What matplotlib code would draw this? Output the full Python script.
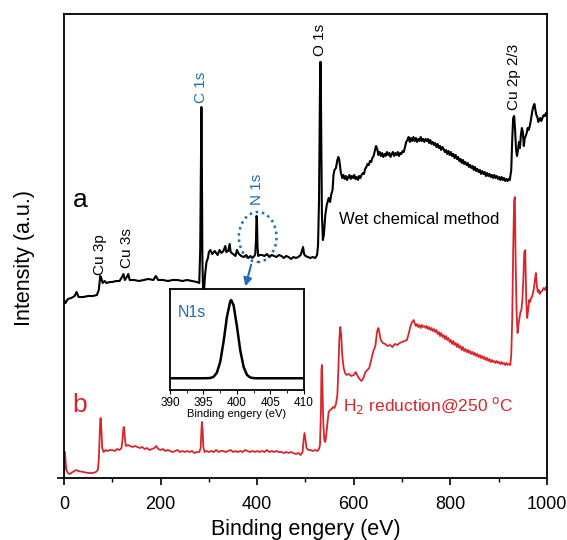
import numpy as np
import matplotlib
matplotlib.use("Agg")
import matplotlib.pyplot as plt
from matplotlib.patches import Ellipse

plt.rcParams['font.family'] = ['Liberation Sans', 'DejaVu Sans']

BLUE = '#1f6db5'
RED = '#d7262b'

# survey spectrum (a) wet chemical method: (binding energy eV, intensity a.u.)
wet_pts = [
    (0, 178), (3, 175), (8, 179), (15, 180), (22, 182), (26, 186), (30, 181), (40, 181), (50, 182),
    (60, 182), (68, 183), (72, 188), (75, 202), (77, 200), (80, 195), (84, 197), (88, 195), (95, 196),
    (100, 196), (108, 197), (115, 197), (120, 201), (123, 204), (126, 198), (130, 201), (133, 204),
    (136, 198), (145, 198), (155, 197), (165, 198), (175, 199), (185, 198), (190, 202), (195, 198),
    (205, 198), (215, 197), (225, 198), (235, 198), (245, 197), (255, 198), (265, 197), (275, 196),
    (280, 195), (282, 228), (283.5, 318), (284.5, 371), (285.5, 308), (286.5, 218), (288, 186),
    (290, 188), (292, 203), (295, 216), (298, 220), (300, 226), (303, 228), (307, 224), (312, 227),
    (318, 223), (322, 228), (326, 225), (330, 227), (334, 232), (336, 226), (340, 227), (343, 234),
    (345, 226), (350, 224), (355, 222), (358, 228), (362, 224), (367, 222), (372, 221), (377, 223),
    (382, 220), (386, 222), (390, 220), (394, 222), (396, 224), (397.5, 238), (398.5, 262),
    (399.5, 260), (400.5, 233), (402, 222), (405, 223), (410, 223), (415, 222), (420, 224), (425, 221),
    (430, 223), (435, 222), (440, 221), (445, 223), (450, 222), (455, 220), (460, 222), (465, 221),
    (470, 219), (475, 221), (480, 220), (485, 221), (490, 223), (493, 228), (495, 231), (497, 224),
    (500, 222), (505, 221), (510, 220), (515, 221), (520, 220), (524, 223), (526, 233), (528, 278),
    (529.5, 358), (530.5, 416), (531.5, 416), (532.5, 348), (534, 263), (536, 238), (538, 243),
    (541, 263), (544, 273), (548, 280), (551, 276), (553, 283), (556, 288), (558, 303), (560, 308),
    (563, 310), (566, 318), (568, 321), (570, 318), (573, 306),
    (576, 300), (578.5, 303), (581, 299), (583.5, 302), (586, 298), (588.5, 301), (591, 303),
    (593.5, 299), (596, 302), (598.5, 300), (601, 303), (603.5, 299), (606, 301), (608.5, 298),
    (611, 302), (613.5, 300), (616, 303), (618.5, 305), (621, 304), (623.5, 309), (626, 311),
    (628.5, 314), (631, 313), (633.5, 317), (636, 316), (638.5, 320), (641, 322), (643.5, 327),
    (646, 332), (648.5, 329), (651, 323), (653.5, 326), (656, 322), (658.5, 325), (661, 321),
    (663.5, 324), (666, 322), (668.5, 326), (671, 323), (673.5, 325), (676, 321), (678.5, 324),
    (681, 326), (683.5, 322), (686, 325), (688.5, 323), (691, 326), (693.5, 322), (696, 325),
    (698.5, 324), (701, 327), (703.5, 326), (706, 331), (708.5, 336), (711, 338), (713.5, 341),
    (716, 336), (718.5, 340), (721, 337), (723.5, 341), (726, 337), (728.5, 340), (731, 336),
    (733.5, 339), (736, 337), (738.5, 341), (741, 337), (743.5, 339), (746, 336), (748.5, 339),
    (751, 337), (753.5, 339), (756, 335), (758.5, 338), (761, 334), (763.5, 336), (766, 333),
    (768.5, 335), (771, 331), (773.5, 334), (776, 330), (778.5, 332), (781, 328), (783.5, 331),
    (786, 329), (788.5, 326), (791, 328), (793.5, 324), (796, 327), (798.5, 323), (801, 326),
    (803.5, 322), (806, 324), (808.5, 320), (811, 323), (813.5, 319), (816, 321), (818.5, 317),
    (821, 319), (823.5, 315), (826, 318), (828.5, 314), (831, 316), (833.5, 313), (836, 315),
    (838.5, 311), (841, 313), (843.5, 310), (846, 312), (848.5, 308), (851, 311), (853.5, 307),
    (856, 309), (858.5, 306), (861, 308), (863.5, 304), (866, 307), (868.5, 304), (871, 306),
    (873.5, 302), (876, 305), (878.5, 302), (881, 304), (883.5, 301), (886, 303), (888.5, 300),
    (891, 303), (893.5, 300), (896, 302), (898.5, 299), (901, 301), (903.5, 298), (906, 301),
    (908.5, 298), (911, 300), (913.5, 297), (916, 299), (918.5, 297), (921, 299), (923, 298),
    (926, 308), (928, 338), (930, 360), (932, 362), (934, 348), (936, 328), (938, 322), (940, 328),
    (942, 336), (944, 330), (946, 343), (948, 350), (950, 346), (952, 332), (954, 340), (956, 342),
    (958, 345), (960, 350), (962, 348), (964, 351), (966, 356), (968, 362), (970, 368), (972, 372),
    (974, 374), (976, 368), (978, 363), (980, 361), (982, 356), (984, 358), (986, 360), (988, 357),
    (990, 359), (992, 362), (994, 363), (996, 362), (998, 365), (1000, 364),
]

# survey spectrum (b) after H2 reduction
h2_pts = [
    (0, 5), (1, 10), (2, 26), (3, 18), (5, 8), (8, 5), (12, 4), (18, 6), (25, 8), (30, 7), (40, 6),
    (50, 5), (60, 5), (66, 6), (70, 8), (72, 18), (73.5, 38), (75, 58), (76, 60), (77.5, 48), (79, 30),
    (82, 26), (86, 28), (90, 27), (95, 28), (100, 28), (105, 27), (110, 29), (115, 28), (119, 30),
    (121, 38), (123, 50), (124.5, 51), (126, 40), (128, 32), (132, 33), (137, 32), (142, 31), (147, 32),
    (152, 31), (157, 30), (162, 31), (167, 29), (172, 30), (177, 28), (182, 29), (187, 30), (191, 32),
    (195, 29), (200, 28), (205, 29), (210, 27), (215, 28), (220, 27), (225, 26), (230, 27), (235, 28),
    (240, 26), (245, 27), (250, 26), (255, 27), (260, 26), (265, 27), (270, 25), (275, 26), (280, 26),
    (283, 30), (284.5, 48), (285.5, 56), (287, 48), (288.5, 31), (291, 26), (295, 27), (300, 26),
    (305, 27), (310, 26), (315, 28), (320, 26), (325, 27), (330, 27), (335, 26), (340, 27), (345, 28),
    (350, 26), (355, 27), (360, 26), (365, 27), (370, 26), (375, 28), (380, 27), (385, 26), (390, 27),
    (395, 26), (400, 27), (405, 26), (410, 27), (415, 26), (420, 28), (425, 26), (430, 27), (435, 26),
    (440, 27), (445, 26), (450, 26), (455, 25), (460, 26), (465, 25), (470, 26), (475, 25), (480, 24),
    (485, 25), (490, 23), (494, 26), (496, 38), (498, 45), (500, 38), (502, 30), (506, 28), (510, 28),
    (515, 27), (520, 28), (525, 27), (528, 29), (530, 33), (532, 68), (533, 108), (534, 113), (535, 93),
    (537, 53), (539, 38), (541, 36), (543, 43), (546, 58), (548, 66), (551, 68), (554, 69), (557, 71),
    (560, 70), (563, 74), (566, 83), (568, 108), (570, 138), (572, 151), (574, 143), (576, 123),
    (579, 110), (582, 105), (585, 103), (590, 104), (595, 102), (600, 103), (604, 106), (608, 102),
    (612, 99), (616, 97), (620, 100), (624, 106), (628, 108), (632, 110), (636, 118), (640, 126),
    (643, 130), (645, 133), (647, 142), (649, 148), (651, 150), (653, 145), (656, 138), (660, 135),
    (665, 134), (670, 132), (675, 133), (680, 131), (685, 134), (690, 133), (695, 135), (700, 136),
    (705, 137), (710, 138), (714, 145), (718, 153), (721, 156), (724, 158),
    (726, 155), (728.5, 152), (731, 154), (733.5, 151), (736, 153), (738.5, 150), (741, 153),
    (743.5, 151), (746, 152), (748.5, 150), (751, 152), (753.5, 149), (756, 151), (758.5, 148),
    (761, 150), (763.5, 147), (766, 149), (768.5, 146), (771, 148), (773.5, 144), (776, 146),
    (778.5, 142), (781, 145), (783.5, 141), (786, 143), (788.5, 139), (791, 142), (793.5, 138),
    (796, 140), (798.5, 136), (801, 138), (803.5, 134), (806, 137), (808.5, 133), (811, 135),
    (813.5, 131), (816, 134), (818.5, 130), (821, 132), (823.5, 128), (826, 131), (828.5, 127),
    (831, 129), (833.5, 126), (836, 128), (838.5, 125), (841, 127), (843.5, 124), (846, 126),
    (848.5, 123), (851, 125), (853.5, 122), (856, 124), (858.5, 121), (861, 123), (863.5, 120),
    (866, 122), (868.5, 119), (871, 121), (873.5, 118), (876, 120), (878.5, 117), (881, 119),
    (883.5, 116), (886, 118), (888.5, 116), (891, 117), (893.5, 115), (896, 117), (898.5, 115),
    (901, 116), (903.5, 114), (906, 116), (908.5, 114), (911, 115), (913.5, 113), (916, 115),
    (918.5, 113), (921, 114), (924, 113), (926, 123),
    (928, 158), (930, 228), (932, 278), (933.5, 281), (935, 218), (937, 168), (939, 145), (941, 153),
    (943, 160), (945, 166), (947, 168), (949, 178), (951, 198), (953, 226), (955, 228), (957, 178),
    (959, 160), (961, 168), (963, 178), (965, 176), (967, 180), (969, 181), (971, 185), (973, 190),
    (975, 198), (977, 205), (979, 192), (981, 186), (983, 188), (985, 184), (987, 186), (990, 187),
    (993, 190), (996, 188), (998, 191), (1000, 188),
]

# high resolution N1s (inset), normalised
n1s_ev = [390, 394, 395, 395.6, 396, 396.5, 397, 397.5, 398, 398.5, 399, 399.15, 399.5, 400,
          400.5, 401, 401.5, 402, 402.5, 403, 405, 410]
n1s_int = [0, 0, 0, 0.001, 0.003, 0.018, 0.071, 0.21, 0.47, 0.785, 0.987, 1.0, 0.932, 0.661,
           0.352, 0.141, 0.042, 0.0095, 0.0016, 0, 0, 0]

# peak labels: (text, energy, label base height, colour)
peak_labels = [
    ('Cu 3p', 74, 203, 'black'),
    ('Cu 3s', 130, 210, 'black'),
    ('C 1s', 284.5, 375, BLUE),
    ('N 1s', 399, 273, BLUE),
    ('O 1s', 531, 422, 'black'),
    ('Cu 2p 2/3', 931, 368, 'black'),
]

wet = np.array(wet_pts)
h2 = np.array(h2_pts)

fig = plt.figure(figsize=(5.67, 5.40), dpi=100)
ax = fig.add_axes([0.1129, 0.1148, 0.8518, 0.8593])

ax.plot(wet[:, 0], wet[:, 1], color='black', lw=1.5)
ax.plot(h2[:, 0], h2[:, 1], color=RED, lw=1.3)

ax.set_xlim(0, 1000)
ax.set_ylim(0, 464)
ax.set_xticks([0, 200, 400, 600, 800, 1000])
ax.set_xticks([100, 300, 500, 700, 900], minor=True)
ax.set_yticks([0])
ax.set_yticklabels([])
ax.tick_params(axis='x', which='major', direction='out', length=5, width=1.2, labelsize=13, pad=8)
ax.tick_params(axis='x', which='minor', direction='out', length=3, width=1.0)
ax.tick_params(axis='y', direction='out', length=5, width=1.2)
for sp in ax.spines.values():
    sp.set_linewidth(1.3)

ax.set_xlabel('Binding engery (eV)', fontsize=15.5, labelpad=4)
ax.set_ylabel('Intensity (a.u.)', fontsize=15.5)
ax.yaxis.set_label_coords(-0.060, 0.474)

for txt, ev, base, col in peak_labels:
    ax.text(ev, base, txt, rotation=90, ha='center', va='bottom', fontsize=11, color=col)

ax.text(33, 278, 'a', fontsize=19, ha='center', va='center')
ax.text(33, 73, 'b', fontsize=19, ha='center', va='center', color=RED)
ax.text(569, 258, 'Wet chemical method', fontsize=12, ha='left', va='center')
ax.text(577, 73, 'H$_2$ reduction@250 $^{\\rm o}$C', fontsize=12.5, ha='left', va='center',
        color=RED)

ax.add_patch(Ellipse((401, 241), 78, 50, fill=False, ls=(0, (1, 1.5)), lw=1.8, ec=BLUE))
ax.annotate('', xy=(374, 189), xytext=(389, 216),
            arrowprops=dict(arrowstyle='-|>', color=BLUE, lw=1.5, mutation_scale=12))

# inset with N1s high resolution spectrum
ins = fig.add_axes([0.2998, 0.2778, 0.2363, 0.187])
ins.plot(n1s_ev, n1s_int, color='black', lw=1.8)
ins.set_xlim(390, 410)
ins.set_ylim(-0.15, 1.142)
ins.set_xticks([390, 395, 400, 405, 410])
ins.set_xticks([392.5, 397.5, 402.5, 407.5], minor=True)
ins.set_yticks([])
ins.tick_params(axis='x', which='major', direction='out', length=3, labelsize=8.5, pad=2)
ins.tick_params(axis='x', which='minor', direction='out', length=2)
for sp in ins.spines.values():
    sp.set_linewidth(1.3)
ins.set_xlabel('Binding engery (eV)', fontsize=8, labelpad=0)
ins.text(0.06, 0.72, 'N1s', transform=ins.transAxes, fontsize=11.5, color=BLUE)

fig.savefig('out.png', dpi=100)
